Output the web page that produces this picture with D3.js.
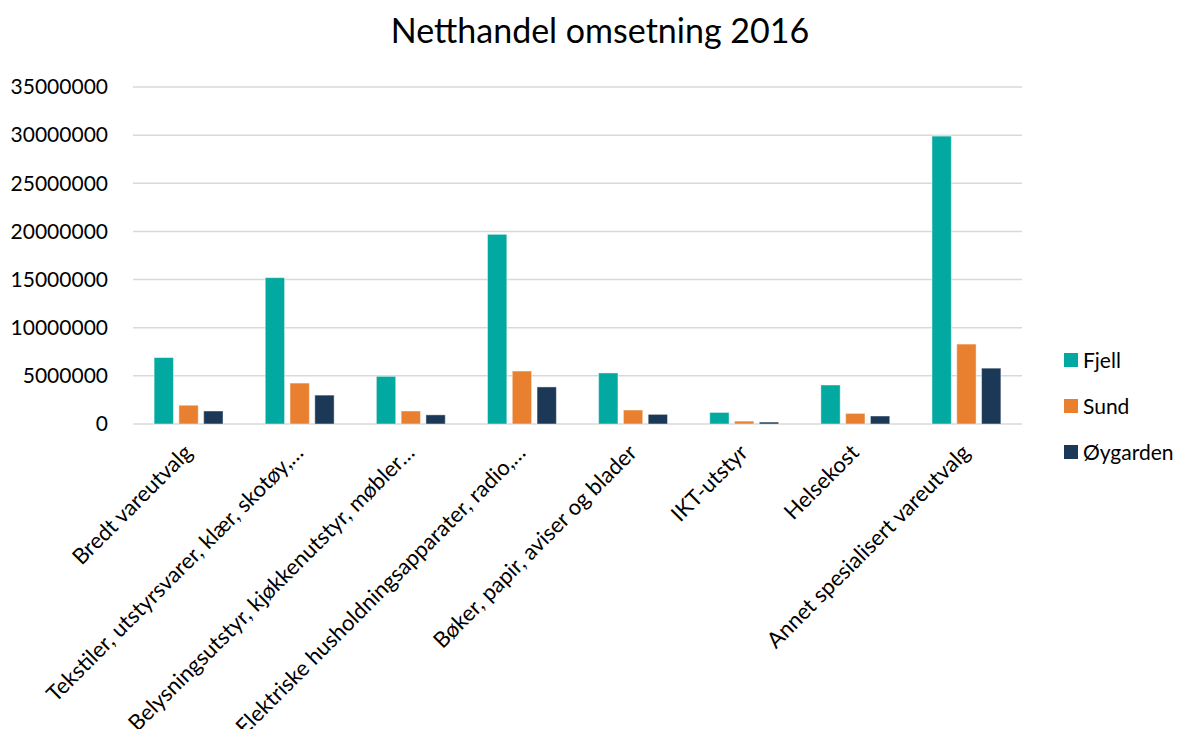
<!DOCTYPE html>
<html>
<head>
<meta charset="utf-8">
<script src="https://cdn.jsdelivr.net/npm/d3@7"></script>
<style>
  html, body { margin: 0; padding: 0; background: #fff; }
  svg { display: block; font-family: Lato, "Open Sans", sans-serif; }
</style>
</head>
<body>
<svg id="chart" width="1179" height="729"></svg>
<script>
const categories = [
  "Bredt vareutvalg",
  "Tekstiler, utstyrsvarer, klær, skotøy,…",
  "Belysningsutstyr, kjøkkenutstyr, møbler…",
  "Elektriske husholdningsapparater, radio,…",
  "Bøker, papir, aviser og blader",
  "IKT-utstyr",
  "Helsekost",
  "Annet spesialisert vareutvalg"
];
const seriesNames = ["Fjell", "Sund", "Øygarden"];
const fjell    = [6900000, 15200000, 4950000, 19700000, 5300000, 1200000, 4050000, 29900000];
const sund     = [1950000, 4250000, 1350000, 5500000, 1450000, 300000, 1100000, 8300000];
const oygarden = [1350000, 3000000, 950000, 3850000, 1000000, 200000, 830000, 5800000];
const yTicks = [0, 5000000, 10000000, 15000000, 20000000, 25000000, 30000000, 35000000];
const colors = ["#02a9a0", "#e8802f", "#1b3856"];
const title = "Netthandel omsetning 2016";

const seriesValues = [fjell, sund, oygarden];
const svg = d3.select("#chart");
const margin = { left: 133, right: 157, top: 87, bottom: 305 };
const W = 1179, H = 729;
const plotW = W - margin.left - margin.right;
const plotH = H - margin.top - margin.bottom;

const g = svg.append("g").attr("transform", `translate(${margin.left},${margin.top})`);

const y = d3.scaleLinear().domain([0, 35000000]).range([plotH, 0]);
const x0 = d3.scaleBand().domain(categories).range([0, plotW]).paddingInner(0.38).paddingOuter(0.19);
const x1 = d3.scaleBand().domain(seriesNames).range([0, x0.bandwidth()]).paddingInner(0.22).paddingOuter(0);
const color = d3.scaleOrdinal().domain(seriesNames).range(colors);

// gridlines
g.append("g").selectAll("line").data(yTicks).join("line")
  .attr("x1", 0).attr("x2", plotW)
  .attr("y1", d => y(d)).attr("y2", d => y(d))
  .attr("stroke", "#d9d9d9").attr("stroke-width", 1.5);

// y axis labels
const yAxis = g.append("g")
  .call(d3.axisLeft(y).tickValues(yTicks).tickSize(0).tickPadding(25).tickFormat(d3.format("d")));
yAxis.select(".domain").remove();
yAxis.selectAll("text").attr("font-size", 21).attr("fill", "#000").attr("font-family", "Lato, sans-serif");

// bars
const groups = g.append("g").selectAll("g").data(categories).join("g")
  .attr("transform", d => `translate(${x0(d)},0)`);
groups.selectAll("rect")
  .data((c, i) => seriesNames.map((s, j) => ({ s, v: seriesValues[j][i] })))
  .join("rect")
  .attr("x", d => x1(d.s))
  .attr("width", x1.bandwidth())
  .attr("y", d => y(d.v))
  .attr("height", d => y(0) - y(d.v))
  .attr("fill", d => color(d.s))
  .attr("stroke", "#ffffff").attr("stroke-opacity", 0.45).attr("stroke-width", 1);

// x axis labels
const xAxis = g.append("g").attr("transform", `translate(0,${plotH})`)
  .call(d3.axisBottom(x0).tickSize(0).tickPadding(0));
xAxis.select(".domain").remove();
xAxis.selectAll("text")
  .attr("font-size", 22).attr("fill", "#000").attr("font-family", "Lato, sans-serif")
  .attr("text-anchor", "end")
  .attr("dy", null).attr("y", null)
  .attr("transform", "translate(5,30) rotate(-45)");

// title
svg.append("text").attr("x", 600).attr("y", 43).attr("text-anchor", "middle")
  .attr("font-size", 34).attr("fill", "#000").text(title);

// legend
const legend = svg.append("g").attr("transform", "translate(1064,360)");
const li = legend.selectAll("g").data(seriesNames).join("g")
  .attr("transform", (d, i) => `translate(0,${i * 46})`);
li.append("rect").attr("x", 0).attr("y", -7).attr("width", 14).attr("height", 14).attr("fill", d => color(d));
li.append("text").attr("x", 19).attr("y", 0).attr("dy", "0.36em").attr("font-size", 21).attr("fill", "#000").text(d => d);
</script>
</body>
</html>
